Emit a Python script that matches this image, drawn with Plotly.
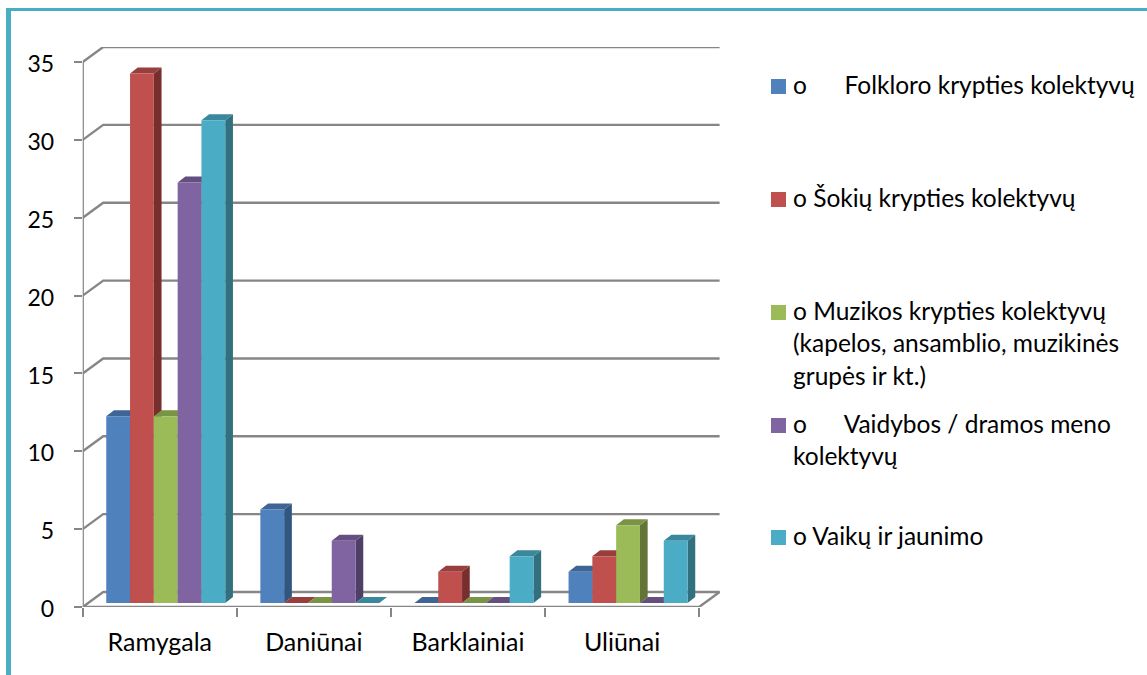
import plotly.graph_objects as go

categories = ["Ramygala", "Daniūnai", "Barklainiai", "Uliūnai"]
series_names = [
    "o\u00a0\u00a0\u00a0\u00a0\u00a0\u00a0Folkloro krypties kolektyvų",
    "o Šokių krypties kolektyvų",
    "o Muzikos krypties kolektyvų<br>(kapelos, ansamblio, muzikinės<br>grupės ir kt.)",
    "o\u00a0\u00a0\u00a0\u00a0\u00a0\u00a0Vaidybos / dramos meno<br>kolektyvų",
    "o Vaikų ir jaunimo",
]
folkloro = [12, 6, 0, 2]
sokiu = [34, 0, 2, 3]
muzikos = [12, 0, 0, 5]
vaidybos = [27, 4, 0, 0]
vaiku = [31, 0, 3, 4]
series_values = [folkloro, sokiu, muzikos, vaidybos, vaiku]
y_ticks = [0, 5, 10, 15, 20, 25, 30, 35]

front_colors = ["#4F81BD", "#C0504D", "#9BBB59", "#8064A2", "#4BACC6"]
top_colors = ["#3E6596", "#983F3D", "#7A9446", "#654F80", "#3B889D"]
side_colors = ["#31567F", "#772F2E", "#627537", "#4F3E66", "#31707F"]
GRID = "#868686"
FRAME = "#4BACC6"
FONT = "Lato"
FS = 24.5

W, H = 1147, 675
L, R, T, B = 82.7, 720.7, 47.0, 607.0
px_x = 154.1   # pixels per category
px_y = 15.57   # pixels per value unit
back_dx, back_dy = 20.5 / px_x, 15.0 / px_y
bar_w = 23.8 / px_x
bar_shift = 6.0 / px_x
bar_base = 4.0 / px_y
depth_x, depth_y = 7.7 / px_x, 6.0 / px_y
xmax, ymax = (R - L) / px_x, (B - T) / px_y

fig = go.Figure()
n = len(categories)


def line(xs, ys):
    fig.add_trace(go.Scatter(x=xs, y=ys, mode="lines", showlegend=False, hoverinfo="skip",
                             cliponaxis=False, line=dict(color=GRID, width=2.4), zorder=0))


for v in y_ticks:
    if v == 0:
        line([0, back_dx, n + back_dx, n, 0], [0, back_dy, back_dy, 0, 0])
    else:
        line([0, back_dx, n + back_dx], [v, v + back_dy, v + back_dy])
line([0, 0], [0, y_ticks[-1]])

for s, (vals, name) in enumerate(zip(series_values, series_names)):
    xs = [i + 0.5 + bar_shift + (s - 2) * bar_w for i in range(n)]
    side_x, side_y, top_x, top_y = [], [], [], []
    for x, v in zip(xs, vals):
        l, r, b, t = x - bar_w / 2, x + bar_w / 2, bar_base, bar_base + v
        if v > 0:
            side_x += [r, r + depth_x, r + depth_x, r, r, None]
            side_y += [b, b + depth_y, t + depth_y, t, b, None]
        top_x += [l, l + depth_x, r + depth_x, r, l, None]
        top_y += [t, t + depth_y, t + depth_y, t, t, None]
    fig.add_trace(go.Scatter(x=side_x, y=side_y, mode="lines", fill="toself", fillcolor=side_colors[s],
                             line=dict(width=0), showlegend=False, hoverinfo="skip", zorder=2 * s + 1))
    fig.add_trace(go.Scatter(x=top_x, y=top_y, mode="lines", fill="toself", fillcolor=top_colors[s],
                             line=dict(width=0), showlegend=False, hoverinfo="skip", zorder=2 * s + 1))
    fig.add_trace(go.Bar(x=xs, y=vals, base=bar_base, width=bar_w, marker=dict(color=front_colors[s], line=dict(width=0)),
                         name=name.replace("<br>", " "), showlegend=False, zorder=2 * s + 2))

shapes = [
    dict(type="rect", xref="paper", yref="paper", x0=6 / W, x1=11 / W, y0=0, y1=1 - 8 / H,
         fillcolor=FRAME, line=dict(width=0)),
    dict(type="rect", xref="paper", yref="paper", x0=6 / W, x1=1, y0=1 - 11 / H, y1=1 - 8 / H,
         fillcolor=FRAME, line=dict(width=0)),
]
legend_y = [86.5, 199.5, 312.5, 425.5, 537.5]
LINE_PITCH = 32.3
annotations = []
for s, (name, yc) in enumerate(zip(series_names, legend_y)):
    shapes.append(dict(type="rect", xref="paper", yref="paper", x0=771 / W, x1=786 / W,
                       y0=1 - (yc + 7.5) / H, y1=1 - (yc - 7.5) / H,
                       fillcolor=front_colors[s], line=dict(width=0)))
    for k, part in enumerate(name.split("<br>")):
        annotations.append(dict(xref="paper", yref="paper", x=791 / W, y=1 - (yc - 2 + k * LINE_PITCH) / H, text=part,
                                showarrow=False, xanchor="left", yanchor="middle", align="left",
                                font=dict(family=FONT, size=FS, color="#000000")))

fig.update_layout(
    width=W, height=H, margin=dict(l=0, r=0, t=0, b=0, autoexpand=False), paper_bgcolor="white", plot_bgcolor="white",
    barmode="overlay", showlegend=False, shapes=shapes, annotations=annotations,
    font=dict(family=FONT, size=FS, color="#000000"),
    xaxis=dict(domain=[L / W, R / W], range=[0, xmax], showgrid=False, zeroline=False, showline=False, automargin=False,
               tickmode="array", tickvals=[i + 0.5 for i in range(n)], ticktext=categories, ticks="",
               ticklabelstandoff=18, tickfont=dict(size=25),
               minor=dict(tickmode="array", tickvals=list(range(n + 1)), ticks="outside", ticklen=9,
                          tickwidth=2, tickcolor=GRID, showgrid=False)),
    yaxis=dict(domain=[1 - B / H, 1 - T / H], range=[0, ymax], showgrid=False, zeroline=False, showline=False, automargin=False,
               tickmode="array", tickvals=y_ticks, ticks="outside", ticklen=8, tickwidth=2, tickcolor=GRID,
               ticklabelstandoff=15, ticklabelshift=2, tickfont=dict(size=23)),
)
fig.write_html("out.html", config=dict(displayModeBar=False),
               post_script="document.body.style.margin='0';document.body.style.overflow='hidden';")
